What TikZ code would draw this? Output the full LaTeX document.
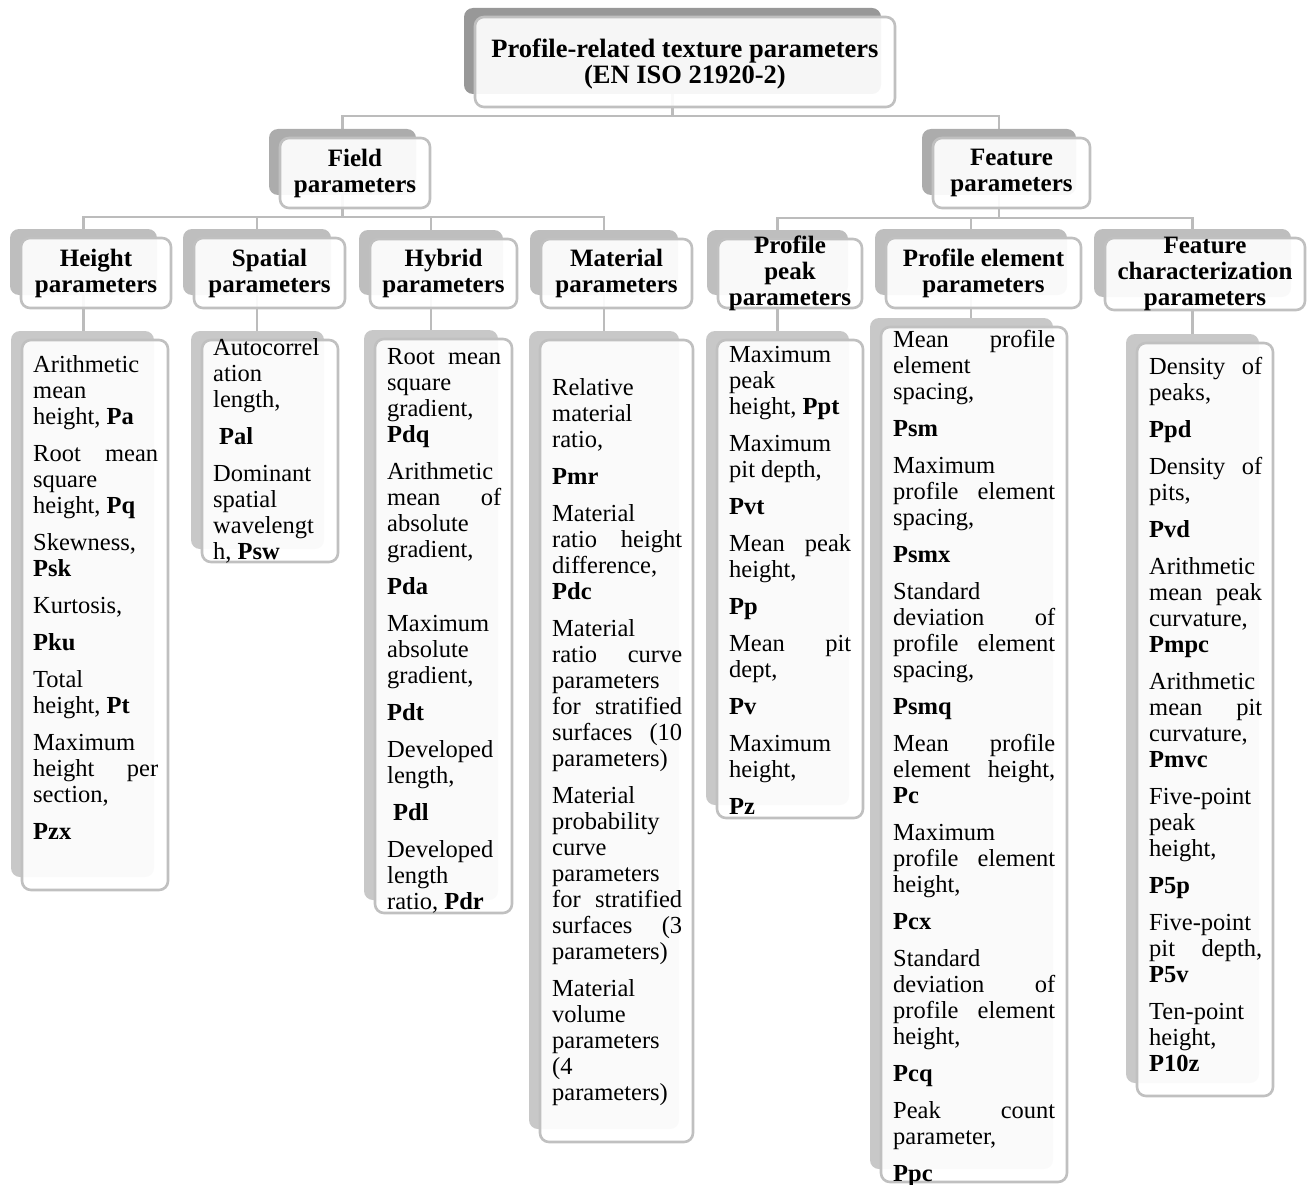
\documentclass[tikz,border=0pt]{standalone}
\usepackage{fontspec}
\setmainfont{Liberation Serif}
\usetikzlibrary{positioning,backgrounds}

\definecolor{topgray}{RGB}{152,152,152}
\definecolor{midgray}{RGB}{172,172,172}
\definecolor{subgray}{RGB}{190,190,190}
\definecolor{listgray}{RGB}{200,200,200}
\definecolor{rimgray}{RGB}{192,192,192}
\definecolor{linkgray}{RGB}{188,188,188}

% gap between two entries of a list
\newcommand{\lgap}{11pt}
\newcommand{\nx}{\\[\lgap]}

% shadow box + front box, front corners given in px
\newcommand{\parambox}[6]{%
  \node[backbox, fill=#6, minimum width={(#4-#2-3)*1pt}, minimum height={(#5-#3-4)*1pt}] (#1b) at (#2-11,#3-9) {};
  \node[frontbox, minimum width={(#4-#2)*1pt}, minimum height={(#5-#3)*1pt}] (#1) at (#2,#3) {};
}

\begin{document}
\begin{tikzpicture}[x=1pt, y=-1pt,
    backbox/.style={anchor=north west, inner sep=0pt, outer sep=0pt, rounded corners=9pt},
    frontbox/.style={anchor=north west, inner sep=0pt, outer sep=0pt, rounded corners=9pt,
      draw=rimgray, line width=2.6pt, fill=white, fill opacity=0.92},
    headtxt/.style={align=center, inner sep=0pt, font=\fontsize{25}{26}\selectfont\bfseries},
    listtxt/.style={anchor=base west, inner sep=0pt, align=flush left, font=\fontsize{24.5}{26}\selectfont},
    conn/.style={draw=linkgray, line width=2.6pt}]
  \useasboundingbox (0,0) rectangle (1311,1185);

  % Top level
  \parambox{top}{475}{17}{895}{107}{topgray}
  \node[headtxt, font=\fontsize{26.5}{26}\selectfont\bfseries] (toptxt) at ([yshift=-2pt]top.center)
    {Profile-related texture parameters\\(EN ISO 21920-2)};

  % Second level
  \parambox{field}{280}{138}{430}{208}{midgray}
  \node[headtxt] (fieldtxt) at (field.center) {Field\\parameters};
  \parambox{feat}{933}{138}{1090}{208}{midgray}
  \node[headtxt] (feattxt) at (feat.center) {Feature\\parameters};

  % Third level
  \parambox{height}{21}{238}{171}{308}{subgray}
  \node[headtxt] (heighttxt) at (height.center) {Height\\parameters};
  \parambox{spatial}{194}{238}{345}{308}{subgray}
  \node[headtxt] (spatialtxt) at (spatial.center) {Spatial\\parameters};
  \parambox{hybrid}{370}{239}{517}{308}{subgray}
  \node[headtxt] (hybridtxt) at (hybrid.center) {Hybrid\\parameters};
  \parambox{material}{541}{239}{692}{308}{subgray}
  \node[headtxt] (materialtxt) at (material.center) {Material\\parameters};
  \parambox{peak}{718}{239}{862}{308}{subgray}
  \node[headtxt] (peaktxt) at (peak.center) {Profile\\peak\\parameters};
  \parambox{elem}{886}{238}{1081}{308}{subgray}
  \node[headtxt] (elemtxt) at (elem.center) {Profile element\\parameters};
  \parambox{char}{1105}{238}{1305}{310}{subgray}
  \node[headtxt] (chartxt) at (char.center) {Feature\\characterization\\parameters};

  % Lists
  \parambox{heightlist}{22}{340}{168}{890}{listgray}
  \node[listtxt, text width=125pt] (heightlisttxt) at (33,372) {%
    Arithmetic\\ mean\\ height, \textbf{Pa}\nx
    Root\hfill mean\\ square\\ height, \textbf{Pq}\nx
    Skewness,\\ \textbf{Psk}\nx
    Kurtosis,\nx
    \textbf{Pku}\nx
    Total\\ height, \textbf{Pt}\nx
    Maximum\\ height\hfill per\\ section,\nx
    \textbf{Pzx}};

  \parambox{spatiallist}{202}{340}{338}{562}{listgray}
  \node[listtxt, text width=113pt] (spatiallisttxt) at (213,355) {%
    Autocorrel\\ ation\\ length,\nx
    \hspace*{6pt}\textbf{Pal}\nx
    Dominant\\ spatial\\ wavelengt\\ h, \textbf{Psw}};

  \parambox{hybridlist}{375}{339}{512}{913}{listgray}
  \node[listtxt, text width=114pt] (hybridlisttxt) at (387,364) {%
    Root\hfill mean\\ square\\ gradient,\\ \textbf{Pdq}\nx
    Arithmetic\\ mean\hfill of\\ absolute\\ gradient,\nx
    \textbf{Pda}\nx
    Maximum\\ absolute\\ gradient,\nx
    \textbf{Pdt}\nx
    Developed\\ length,\nx
    \hspace*{6pt}\textbf{Pdl}\nx
    Developed\\ length\\ ratio, \textbf{Pdr}};

  \parambox{materiallist}{540}{340}{693}{1142}{listgray}
  \node[listtxt, text width=130pt] (materiallisttxt) at (552,395) {%
    Relative\\ material\\ ratio,\nx
    \textbf{Pmr}\nx
    Material\\ ratio\hfill height\\ difference,\\ \textbf{Pdc}\nx
    Material\\ ratio\hfill curve\\ parameters\\ for\hfill stratified\\ surfaces\hfill (10\\ parameters)\nx
    Material\\ probability\\ curve\\ parameters\\ for\hfill stratified\\ surfaces\hfill (3\\ parameters)\nx
    Material\\ volume\\ parameters\\ (4\\ parameters)};

  \parambox{peaklist}{717}{340}{863}{818}{listgray}
  \node[listtxt, text width=122pt] (peaklisttxt) at (729,362) {%
    Maximum\\ peak\\ height, \textbf{Ppt}\nx
    Maximum\\ pit depth,\nx
    \textbf{Pvt}\nx
    Mean\hfill peak\\ height,\nx
    \textbf{Pp}\nx
    Mean\hfill pit\\ dept,\nx
    \textbf{Pv}\nx
    Maximum\\ height,\nx
    \textbf{Pz}};

  \parambox{elemlist}{881}{327}{1067}{1182}{listgray}
  \node[listtxt, text width=162pt] (elemlisttxt) at (893,347) {%
    Mean\hfill profile\\ element\\ spacing,\nx
    \textbf{Psm}\nx
    Maximum\\ profile\hfill element\\ spacing,\nx
    \textbf{Psmx}\nx
    Standard\\ deviation\hfill of\\ profile\hfill element\\ spacing,\nx
    \textbf{Psmq}\nx
    Mean\hfill profile\\ element\hfill height,\\ \textbf{Pc}\nx
    Maximum\\ profile\hfill element\\ height,\nx
    \textbf{Pcx}\nx
    Standard\\ deviation\hfill of\\ profile\hfill element\\ height,\nx
    \textbf{Pcq}\nx
    Peak\hfill count\\ parameter,\nx
    \textbf{Ppc}};

  \parambox{charlist}{1137}{343}{1273}{1096}{listgray}
  \node[listtxt, text width=113pt] (charlisttxt) at (1149,374) {%
    Density\hfill of\\ peaks,\nx
    \textbf{Ppd}\nx
    Density\hfill of\\ pits,\nx
    \textbf{Pvd}\nx
    Arithmetic\\ mean\hfill peak\\ curvature,\\ \textbf{Pmpc}\nx
    Arithmetic\\ mean\hfill pit\\ curvature,\\ \textbf{Pmvc}\nx
    Five-point\\ peak\\ height,\nx
    \textbf{P5p}\nx
    Five-point\\ pit\hfill depth,\\ \textbf{P5v}\nx
    Ten-point\\ height,\\ \textbf{P10z}};

  % Connectors
  \coordinate (bus1) at (0,116);
  \coordinate (bus2) at (0,217);
  \coordinate (bus3) at (0,218);
  \begin{pgfonlayer}{background}
    \foreach \nm in {fieldb,featb}
      \draw[conn] (topb.south) -- (topb.south |- bus1) -| (\nm.north);
    \foreach \nm in {heightb,spatialb,hybridb,materialb}
      \draw[conn] (fieldb.south) -- (fieldb.south |- bus2) -| (\nm.north);
    \foreach \nm in {peakb,elemb,charb}
      \draw[conn] (featb.south) -- (featb.south |- bus3) -| (\nm.north);
    \foreach \nm in {height,spatial,hybrid,material,peak,elem,char}
      \draw[conn] (\nm b.south) -- (\nm b.south |- \nm listb.north);
  \end{pgfonlayer}
\end{tikzpicture}
\end{document}
